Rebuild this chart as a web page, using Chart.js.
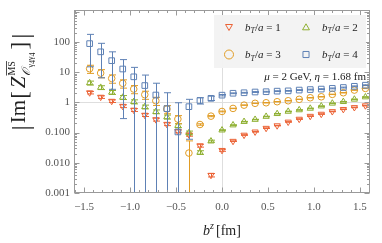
<!DOCTYPE html>
<html><head><meta charset="utf-8">
<script src="https://cdn.jsdelivr.net/npm/chart.js@4/dist/chart.umd.min.js"></script>
<style>html,body{margin:0;padding:0;background:#fff}canvas{display:block}</style>
</head><body>
<canvas id="c" width="382" height="243"></canvas>
<script>
// b^z positions [fm]
const bz = [-1.44,-1.32,-1.20,-1.08,-0.96,-0.84,-0.72,-0.60,-0.48,-0.36,-0.24,-0.12,0.00,0.12,0.24,0.36,0.48,0.60,0.72,0.84,0.96,1.08,1.20,1.32,1.44,1.56];
// |Im Z| values
const bT1 = [2.1,1.5,1.1,0.75,0.56,0.38,0.27,0.19,0.11,0.085,0.037,0.0039,0.026,0.052,0.083,0.106,0.14,0.17,0.225,0.28,0.35,0.41,0.50,0.59,0.68,0.78];
const bT2 = [4.4,3.1,2.15,1.46,1.05,0.71,0.49,0.33,0.17,0.098,0.022,0.052,0.12,0.177,0.23,0.27,0.34,0.42,0.50,0.56,0.63,0.75,0.93,1.05,1.26,1.5];
const bT3 = [13,9.3,6.2,4.26,2.76,1.8,1.13,0.6,0.28,0.021,0.185,0.35,0.50,0.63,0.81,0.93,0.97,1.05,1.13,1.26,1.42,1.53,1.84,2.08,2.55,2.9];
const bT4 = [88,47,24,12.7,7.0,3.6,1.75,0.62,0.105,0.72,1.15,1.36,1.73,2.0,2.08,2.2,2.25,2.35,2.4,2.55,2.65,2.75,2.9,3.1,3.4,3.7];
// symmetric errors
const err1 = [0.2,0.15,0.11,0.08,0.06,0.04,0.03,0.02,0.012,0.009,0.004,0.0005,0.002,0.001,0.002,0.002,0.003,0.003,0.005,0.006,0.007,0.008,0.01,0.012,0.014,0.016];
const err2 = [0.65,0.45,0.32,0.22,0.16,0.1,0.07,0.05,0.025,0.014,0.003,0.004,0.004,0.004,0.005,0.005,0.007,0.008,0.01,0.011,0.013,0.015,0.019,0.021,0.025,0.03];
const err3 = [3.9,2.8,1.9,1.3,0.83,0.54,0.34,0.18,0.084,0.032,0.01,0.015,0.015,0.01,0.012,0.014,0.015,0.016,0.017,0.019,0.021,0.023,0.028,0.031,0.038,0.044];
// asymmetric bounds for b_T/a = 4 (0 = extends below axis)
const lo4 = [15,6.5,2.7,0.29,0,0,0,0,0,0.06,0.88,1.15,1.64,1.94,2.02,2.13,2.18,2.28,2.33,2.47,2.57,2.67,2.81,3.0,3.3,3.59];
const hi4 = [178,90,47,26,14.4,8,4.3,2.08,0.97,1.26,1.42,1.6,1.82,2.06,2.14,2.27,2.32,2.42,2.47,2.63,2.73,2.83,2.99,3.2,3.5,3.81];

const xTickValues = [-1.5,-1.0,-0.5,0.0,0.5,1.0,1.5];
const xTickLabels = ["\u22121.5","\u22121.0","\u22120.5","0.0","0.5","1.0","1.5"];
const yTickValues = [0.001,0.01,0.1,1,10,100];
const yTickLabels = ["0.001","0.010","0.100","1","10","100"];
const seriesLabels = ["1","2","3","4"];

const COLORS = ['#EB6235','#8FB032','#E19C24','#5E81B5'];
const SERIF = '"Liberation Serif","Times New Roman",serif';

const values = [bT1,bT2,bT3,bT4];
function bounds(k,i){
  if(k===3) return [lo4[i], hi4[i]];
  const e = [err1,err2,err3][k][i];
  return [values[k][i]-e, values[k][i]+e];
}

function marker(ctx, style, x, y, r, color){
  ctx.save(); ctx.strokeStyle=color; ctx.lineWidth=1; ctx.beginPath();
  if(style==='circle'){ ctx.arc(x,y,r,0,Math.PI*2); }
  else if(style==='rect'){ const s=r*Math.SQRT1_2; ctx.rect(x-s,y-s,2*s,2*s); }
  else { const dir = style==='down'?1:-1;
    for(let j=0;j<3;j++){ const a = j*2*Math.PI/3;
      const px = x+Math.sin(a)*r, py = y+dir*Math.cos(a)*r;
      if(j===0) ctx.moveTo(px,py); else ctx.lineTo(px,py); }
    ctx.closePath(); }
  ctx.stroke(); ctx.restore();
}

function rich(ctx, segs, x, y, align){
  let w=0;
  for(const s of segs){ ctx.font=s.f; s.w=ctx.measureText(s.t).width+(s.dx||0); w+=s.w; }
  let cx = align==='right'? x-w : (align==='center'? x-w/2 : x);
  for(const s of segs){ ctx.font=s.f; ctx.fillText(s.t, cx, y+(s.dy||0)); cx+=s.w; }
  return w;
}

const deco = {
  id:'deco',
  beforeDatasetsDraw(chart){
    const {ctx, chartArea:a, scales:{x,y}} = chart;
    ctx.save(); ctx.strokeStyle='#dedede'; ctx.lineWidth=1; ctx.beginPath();
    const gx = Math.round(x.getPixelForValue(0))+0.5;
    ctx.moveTo(gx,a.top); ctx.lineTo(gx,a.bottom);
    const gy = Math.round(y.getPixelForValue(1))+0.5;
    ctx.moveTo(a.left,gy); ctx.lineTo(a.right,gy); ctx.stroke(); ctx.restore();
  },
  beforeDatasetDraw(chart,args){
    const k = args.index; const {ctx, chartArea:a, scales:{x,y}} = chart;
    ctx.save(); ctx.beginPath(); ctx.rect(a.left,a.top,a.right-a.left,a.bottom-a.top); ctx.clip();
    ctx.strokeStyle=COLORS[k]; ctx.lineWidth=1; ctx.beginPath();
    for(let i=0;i<bz.length;i++){
      const [lv,hv] = bounds(k,i);
      const px = Math.round(x.getPixelForValue(bz[i]))+0.5;
      const ph = y.getPixelForValue(hv);
      const pl = lv>0 ? y.getPixelForValue(lv) : a.bottom+2;
      ctx.moveTo(px,ph); ctx.lineTo(px,pl);
      ctx.moveTo(px-3.5,ph); ctx.lineTo(px+3.5,ph);
      if(lv>0){ ctx.moveTo(px-3.5,pl); ctx.lineTo(px+3.5,pl); }
    }
    ctx.stroke(); ctx.restore();
  },
  afterDatasetsDraw(chart){
    const {ctx, chartArea:a, scales:{x,y}} = chart;
    ctx.save();
    // frame
    ctx.strokeStyle='#9a9a9a'; ctx.lineWidth=1;
    const L=Math.round(a.left)+0.5, R=Math.round(a.right)-0.5, T=Math.round(a.top)+0.5, B=Math.round(a.bottom)-0.5;
    ctx.strokeRect(L,T,R-L,B-T);
    ctx.beginPath();
    for(let m=-16;m<=16;m++){
      const v=m/10; const px=Math.round(x.getPixelForValue(v))+0.5;
      if(px<L||px>R) continue;
      const len = (m%5===0)?5:2.5;
      ctx.moveTo(px,B); ctx.lineTo(px,B-len); ctx.moveTo(px,T); ctx.lineTo(px,T+len);
    }
    for(let d=-3;d<=3;d++){
      for(let k=1;k<=9;k++){
        const v=k*Math.pow(10,d); if(v<0.001*0.999||v>y.max) continue;
        const py=Math.round(y.getPixelForValue(v))+0.5;
        const len = k===1?5:2.5;
        ctx.moveTo(L,py); ctx.lineTo(L+len,py); ctx.moveTo(R,py); ctx.lineTo(R-len,py);
      }
    }
    ctx.stroke();
    // tick labels
    ctx.fillStyle='#555'; ctx.font='11px '+SERIF;
    ctx.textAlign='center'; ctx.textBaseline='middle';
    xTickValues.forEach((v,i)=>ctx.fillText(xTickLabels[i], x.getPixelForValue(v), 207));
    ctx.textAlign='right';
    yTickValues.forEach((v,i)=>ctx.fillText(yTickLabels[i], 70, y.getPixelForValue(v)));
    // legend
    ctx.fillStyle='rgba(242,242,242,0.95)';
    ctx.fillRect(214,15,152,53);
    const styles=['down','up','circle','rect'];
    const lx=[229,306,229,306], ly=[27,27,54.5,54.5], lr=[4,4,4.5,4.3];
    ctx.textAlign='left'; ctx.textBaseline='alphabetic';
    for(let k=0;k<4;k++){
      marker(ctx, styles[k], lx[k], ly[k]+(k===0?-0.5:(k===1?0.8:0)), lr[k], COLORS[k]);
      ctx.fillStyle='#222';
      rich(ctx,[{t:'b',f:'italic 11px '+SERIF},{t:'T',f:'italic 8px '+SERIF,dy:2.5},{t:'/',f:'11px '+SERIF},{t:'a',f:'italic 11px '+SERIF},{t:' = '+seriesLabels[k],f:'11px '+SERIF}], lx[k]+16, ly[k]+3.5,'left');
    }
    // annotation
    ctx.fillStyle='#222';
    rich(ctx,[{t:'\u03bc',f:'italic 11px '+SERIF},{t:' = 2 GeV, ',f:'11px '+SERIF},{t:'\u03b7',f:'italic 11px '+SERIF},{t:' = 1.68 fm',f:'11px '+SERIF}], 366, 79.5,'right');
    // x title
    rich(ctx,[{t:'b',f:'italic 14px '+SERIF},{t:'z',f:'italic 10px '+SERIF,dy:-6,dx:2},{t:'[fm]',f:'14px '+SERIF}], 222, 235,'center');
    // y title (rotated)
    ctx.save(); ctx.translate(25,82); ctx.rotate(-Math.PI/2);
    const fBar='26px '+SERIF, fMain='21px '+SERIF, fZ='italic 21px '+SERIF, fBr='23px '+SERIF, fSup='10px '+SERIF, fSub='italic 12px '+SERIF, fSS='8px '+SERIF;
    const W=(t,f)=>{ctx.font=f;return ctx.measureText(t).width;};
    const wSup=W('MS',fSup), wSub=W('\ud835\udcaa',fSub)+W('\u03b3',fSS)*2+W('4',fSS)*2;
    const wScript=Math.max(wSup,wSub)+1;
    const parts=[['|',fBar,2],['Im',fMain,1],['[',fBr,3],['Z',fZ,1],['S',null,2],[']',fBr,3],['|',fBar,0]];
    let total=0; for(const p of parts){ total += (p[0]==='S'?wScript:W(p[0],p[1])) + p[2]; }
    let cx=-total/2;
    ctx.fillStyle='#222'; ctx.textBaseline='alphabetic'; ctx.textAlign='left';
    for(const p of parts){
      if(p[0]==='S'){
        ctx.font=fSup; ctx.fillText('MS',cx,-10);
        ctx.strokeStyle='#222'; ctx.lineWidth=0.8; ctx.beginPath(); ctx.moveTo(cx,-18.5); ctx.lineTo(cx+wSup,-18.5); ctx.stroke();
        let sx=cx; ctx.font=fSub; ctx.fillText('\ud835\udcaa',sx,5); sx+=W('\ud835\udcaa',fSub);
        ctx.font=fSS; ctx.fillText('\u03b3',sx,8); sx+=W('\u03b3',fSS); ctx.fillText('4',sx,10); sx+=W('4',fSS);
        ctx.fillText('\u03b3',sx,8); sx+=W('\u03b3',fSS); ctx.fillText('4',sx,10);
        cx+=wScript+p[2];
      } else {
        const dy = p[0]==='|'?4:(p[0]==='['||p[0]===']'?2:0);
        ctx.font=p[1]; ctx.fillText(p[0],cx,dy); cx+=W(p[0],p[1])+p[2];
      }
    }
    ctx.restore();
    ctx.restore();
  }
};

const ds = [
  {pointStyle:'triangle', rot:180, r:3.6},
  {pointStyle:'triangle', rot:0, r:3.6},
  {pointStyle:'circle', rot:0, r:3.3},
  {pointStyle:'rect', rot:0, r:4.0}
].map((s,k)=>({
  label:'b_T/a = '+seriesLabels[k],
  data: bz.map((xv,i)=>({x:xv,y:values[k][i]})),
  showLine:false,
  pointStyle:s.pointStyle, pointRotation:s.rot, pointRadius:s.r,
  borderColor:COLORS[k], backgroundColor:'rgba(0,0,0,0)', borderWidth:1,
  order: 3-k,
  clip: 0
}));

new Chart(document.getElementById('c'),{
  type:'scatter',
  data:{datasets:ds},
  options:{
    responsive:false, animation:false, devicePixelRatio:1, events:[],
    layout:{padding:{left:74,right:12,top:10,bottom:50}},
    scales:{
      x:{type:'linear',min:-1.61,max:1.61,display:false},
      y:{type:'logarithmic',min:0.001,max:1140,display:false}
    },
    plugins:{legend:{display:false},tooltip:{enabled:false}}
  },
  plugins:[deco]
});
</script>
</body></html>
